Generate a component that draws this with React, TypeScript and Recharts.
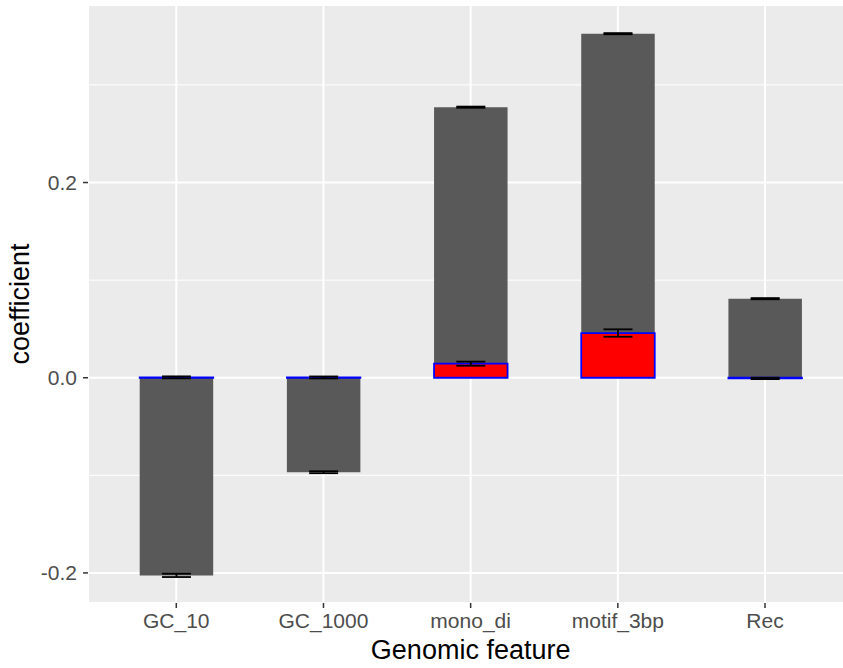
import React from 'react';
import { ComposedChart, Bar, XAxis, YAxis, CartesianGrid, ErrorBar } from 'recharts';

const categories = ['GC_10', 'GC_1000', 'mono_di', 'motif_3bp', 'Rec'];
const totalValues = [-0.2025, -0.0968, 0.2772, 0.3525, 0.081];
const totalErrors = [0.0017, 0.001, 0.0006, 0.0006, 0.0006];
const partValues = [0.0004, 0.0003, 0.0144, 0.0458, -0.0007];
const partErrors = [0.001, 0.001, 0.0021, 0.0038, 0.0007];
const majorTicks = [-0.2, 0, 0.2];
const minorTicks = [-0.1, 0.1, 0.3];
const yDomain = [-0.2308, 0.3819];

const data = categories.map((c, i) => ({
  name: c,
  total: totalValues[i],
  totalErr: totalErrors[i],
  part: partValues[i],
  partErr: partErrors[i],
}));

const FONT = '"Liberation Sans", Arial, Helvetica, sans-serif';
const fmt = (v: number) => v.toFixed(1);

export default function App() {
  return (
    <div style={{ position: 'absolute', left: 0, top: 0, width: 843, height: 668, overflow: 'hidden', background: '#fff' }}>
      <ComposedChart
        width={860}
        height={668}
        data={data}
        margin={{ top: 5, right: 6.7, bottom: 0, left: 0 }}
        style={{ fontFamily: FONT }}
      >
        <CartesianGrid fill="#EBEBEB" fillOpacity={1} stroke="#FFFFFF" strokeWidth={2} />
        <CartesianGrid yAxisId="minor" vertical={false} stroke="#FFFFFF" strokeWidth={1} />
        <XAxis
          dataKey="name"
          height={65}
          padding={{ left: 14.7, right: 14.7 }}
          axisLine={false}
          tickSize={5}
          tickMargin={5}
          tickLine={{ stroke: '#333333', strokeWidth: 1.5 }}
          tick={{ fill: '#4D4D4D', fontSize: 21, fontFamily: FONT }}
          interval={0}
          label={{ value: 'Genomic feature', position: 'insideBottom', offset: 9, style: { fontSize: 27, fill: '#000', fontFamily: FONT } }}
        />
        <XAxis dataKey="name" xAxisId="over" hide padding={{ left: 14.7, right: 14.7 }} />
        <YAxis
          width={88}
          domain={yDomain}
          allowDataOverflow
          ticks={majorTicks}
          tickFormatter={fmt}
          axisLine={false}
          tickSize={5}
          tickMargin={6}
          tickLine={{ stroke: '#333333', strokeWidth: 1.5 }}
          tick={{ fill: '#4D4D4D', fontSize: 21, fontFamily: FONT }}
          label={{ value: 'coefficient', angle: -90, position: 'insideLeft', offset: 19, style: { textAnchor: 'middle', fontSize: 27, fill: '#000', fontFamily: FONT } }}
        />
        <YAxis yAxisId="minor" hide domain={yDomain} allowDataOverflow ticks={minorTicks} />
        <Bar dataKey="total" fill="#595959" barSize={73.5} isAnimationActive={false}>
          <ErrorBar dataKey="totalErr" width={14.5} stroke="#000" strokeWidth={1.8} direction="y" />
        </Bar>
        <Bar dataKey="part" xAxisId="over" fill="#FF0000" stroke="#0000FF" strokeWidth={1.8} barSize={73.5} isAnimationActive={false}>
          <ErrorBar dataKey="partErr" width={14.5} stroke="#000" strokeWidth={1.8} direction="y" />
        </Bar>
      </ComposedChart>
    </div>
  );
}
